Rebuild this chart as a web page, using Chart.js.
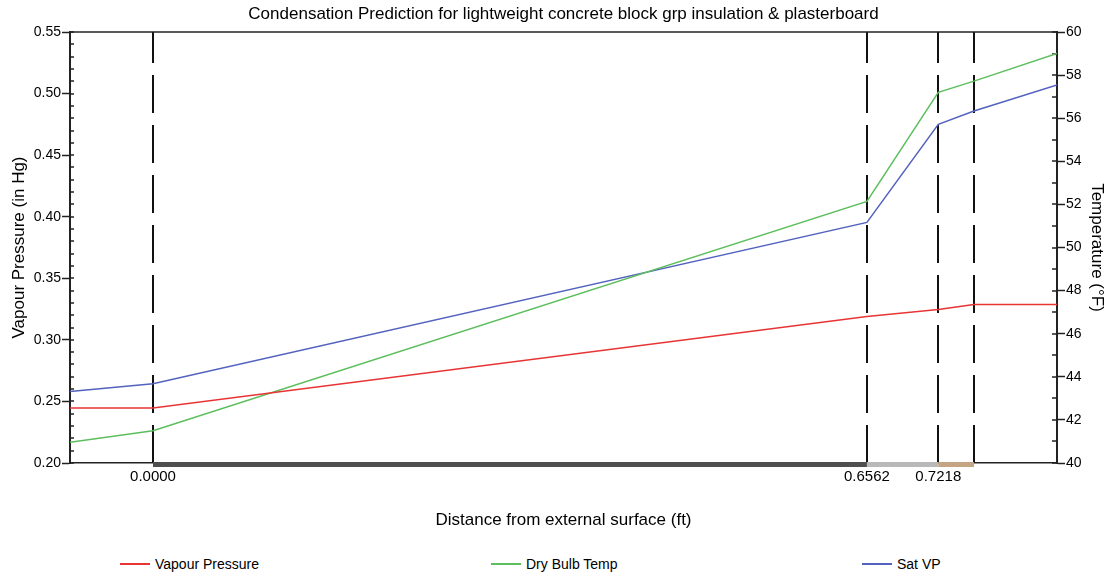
<!DOCTYPE html>
<html>
<head>
<meta charset="utf-8">
<title>Condensation Prediction</title>
<script src="https://cdn.jsdelivr.net/npm/chart.js@4.4.0/dist/chart.umd.min.js"></script>
<style>
  body { margin: 0; background: #fff; font-family: "Liberation Sans", Arial, sans-serif; color: #000; overflow: hidden; }
  #wrap { width: 1114px; height: 578px; position: relative; }
  #chartBox { width: 1114px; height: 548px; position: relative; }
  #legend { position: absolute; left: 120px; top: 548px; height: 32px;
            display: flex; font-size: 14px; white-space: nowrap; }
  #legend .item { display: flex; align-items: center; flex: 0 0 371px; }
  #legend .swatch { width: 30px; height: 2px; margin-right: 5px; }
</style>
</head>
<body>
<div id="wrap">
  <div id="chartBox"><canvas id="myChart"></canvas></div>
  <div id="legend"></div>
</div>
<script>
// Distance through the wall (ft), with the surface films on each side
var distance = [-0.0763, 0, 0.6562, 0.7218, 0.7546, 0.8309];
var vapourPressure = [0.2446, 0.2446, 0.3189, 0.3246, 0.3287, 0.3287]; // in Hg
var dryBulbTemp = [40.96, 41.5, 52.14, 57.2, 57.72, 59.0];             // °F
var satVP = [0.258, 0.2643, 0.3954, 0.475, 0.4858, 0.5069];            // in Hg

// Layer interfaces: block / grp insulation / plasterboard
var boundaries = [0, 0.6562, 0.7218, 0.7546];
var boundaryLabels = ["0.0000", "0.6562", "0.7218", ""];
var layerColours = ["#4f4f4f", "#b9b9b9", "#c4a482"];

var FONT = "'Liberation Sans', Arial, sans-serif";

function points(ys) {
  return distance.map((x, i) => ({ x: x, y: ys[i] }));
}

var series = [
  { label: "Vapour Pressure", data: points(vapourPressure), color: "rgb(232,52,52)", axis: "y" },
  { label: "Dry Bulb Temp", data: points(dryBulbTemp), color: "rgb(92,190,92)", axis: "y1" },
  { label: "Sat VP", data: points(satVP), color: "rgb(82,98,190)", axis: "y" },
];

// dashed interface lines, the material strip on the axis and the small inner ticks
var wallPlugin = {
  id: "wall",
  beforeDatasetsDraw(chart) {
    var ctx = chart.ctx, area = chart.chartArea, xs = chart.scales.x;
    ctx.save();
    ctx.strokeStyle = "#111";
    ctx.lineWidth = 2;
    ctx.setLineDash([38, 12]);
    boundaries.forEach(function (b) {
      var px = Math.round(xs.getPixelForValue(b));
      ctx.beginPath();
      ctx.moveTo(px, area.bottom);
      ctx.lineTo(px, area.top);
      ctx.stroke();
    });
    ctx.setLineDash([]);
    ctx.lineWidth = 1.5;
    ctx.strokeStyle = "#222";
    ctx.beginPath();
    ctx.moveTo(area.left, area.top);
    ctx.lineTo(area.right, area.top);
    ctx.stroke();

    // minor ticks inside the plot box
    var yl = chart.scales.y, yr = chart.scales.y1;
    for (var i = 0; i <= 35; i++) {
      var py = Math.round(yl.getPixelForValue(0.2 + i * 0.01));
      ctx.beginPath(); ctx.moveTo(area.left, py); ctx.lineTo(area.left + 4, py); ctx.stroke();
    }
    for (var t = 40; t <= 60; t++) {
      var pr = Math.round(yr.getPixelForValue(t));
      ctx.beginPath(); ctx.moveTo(area.right - 5, pr); ctx.lineTo(area.right, pr); ctx.stroke();
    }
    ctx.restore();
  },
  afterDatasetsDraw(chart) {
    var ctx = chart.ctx, area = chart.chartArea, xs = chart.scales.x;
    ctx.save();
    for (var i = 0; i < boundaries.length - 1; i++) {
      var x0 = xs.getPixelForValue(boundaries[i]);
      var x1 = xs.getPixelForValue(boundaries[i + 1]);
      ctx.fillStyle = layerColours[i];
      ctx.fillRect(x0, area.bottom - 1, x1 - x0, 5);
    }
    ctx.restore();
  },
};

var ctx = document.getElementById("myChart").getContext("2d");
var chartInstance = new Chart(ctx, {
  type: "line",
  data: {
    datasets: series.map((s) => ({
      label: s.label,
      data: s.data,
      yAxisID: s.axis,
      borderColor: s.color,
      backgroundColor: s.color,
      borderWidth: 1.5,
      pointRadius: 0,
      tension: 0,
    })),
  },
  options: {
    responsive: true,
    maintainAspectRatio: false,
    animation: false,
    layout: { padding: 0 },
    plugins: {
      legend: { display: false },
      tooltip: { enabled: false },
      title: {
        display: true,
        fullSize: false,
        text: "Condensation Prediction for lightweight concrete block grp insulation & plasterboard",
        color: "#000",
        font: { family: FONT, size: 17, weight: "normal" },
        padding: { top: 3.8, bottom: 7.8 },
      },
    },
    scales: {
      x: {
        type: "linear",
        min: distance[0],
        max: distance[distance.length - 1],
        afterBuildTicks: (scale) => {
          scale.ticks = boundaries.map((v) => ({ value: v }));
        },
        afterFit: (scale) => { scale.height = 85; },
        ticks: {
          autoSkip: false,
          maxRotation: 0,
          padding: 5,
          color: "#000",
          font: { family: FONT, size: 15 },
          callback: (v, i) => boundaryLabels[i],
        },
        grid: { drawOnChartArea: false, drawTicks: false },
        border: { color: "#222", width: 1.5 },
        title: {
          display: true,
          text: "Distance from external surface (ft)",
          color: "#000",
          font: { family: FONT, size: 17 },
          padding: { top: 0, bottom: 17.8 },
        },
      },
      y: {
        position: "left",
        min: 0.2,
        max: 0.55,
        afterFit: (scale) => { scale.width = 70; },
        ticks: {
          stepSize: 0.05,
          padding: 1,
          color: "#000",
          font: { family: FONT, size: 14 },
          callback: (v) => v.toFixed(2),
        },
        grid: { drawOnChartArea: false, tickLength: 8, tickColor: "#222", tickWidth: 1.5 },
        border: { color: "#222", width: 2 },
        title: {
          display: true,
          text: "Vapour Pressure (in Hg)",
          color: "#000",
          font: { family: FONT, size: 17 },
          padding: { top: 9.3, bottom: 0 },
        },
      },
      y1: {
        position: "right",
        min: 40,
        max: 60,
        afterFit: (scale) => { scale.width = 57; },
        ticks: {
          stepSize: 2,
          padding: 1,
          color: "#000",
          font: { family: FONT, size: 14 },
        },
        grid: { drawOnChartArea: false, tickLength: 8, tickColor: "#222", tickWidth: 1.5 },
        border: { color: "#222", width: 2 },
        title: {
          display: true,
          text: "Temperature (°F)",
          color: "#000",
          font: { family: FONT, size: 17 },
          padding: { top: 6.8, bottom: 0 },
        },
      },
    },
  },
  plugins: [wallPlugin],
});

// legend laid out in three wide columns under the chart
document.getElementById("legend").innerHTML = series
  .map((s) => `<div class="item"><span class="swatch" style="background:${s.color}"></span>${s.label}</div>`)
  .join("");
</script>
</body>
</html>
